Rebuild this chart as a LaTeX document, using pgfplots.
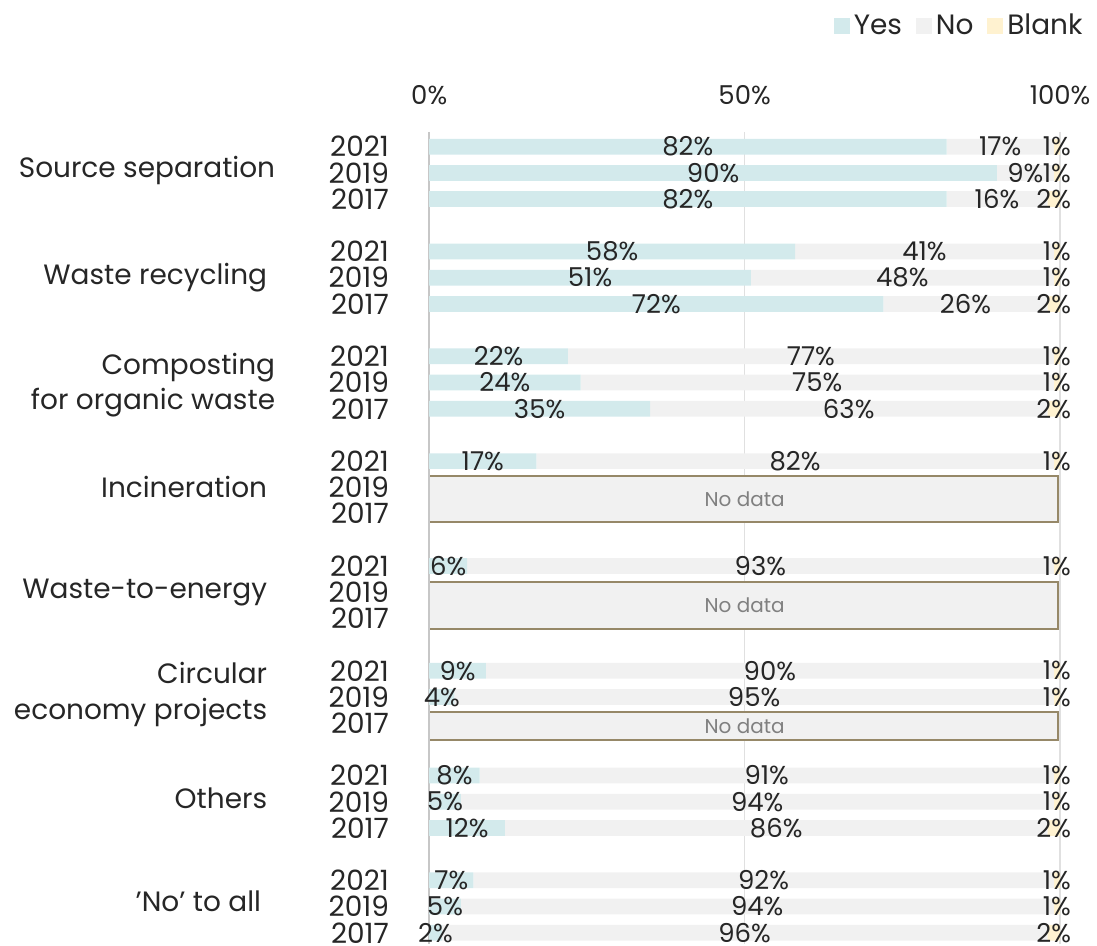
\documentclass[border=0pt]{standalone}
\usepackage{pgfplots}
\usepackage{pgfplotstable}
\usepackage{fontspec}
\pgfplotsset{compat=1.18}
\setmainfont{Poppins}

\definecolor{yescol}{RGB}{211,234,236}
\definecolor{nocol}{RGB}{241,241,241}
\definecolor{blankcol}{RGB}{255,242,208}
\definecolor{boxcol}{RGB}{150,136,104}
\definecolor{txt}{RGB}{38,38,38}

% k = row position (4 slots per group, 4th left empty)
\pgfplotstableread{
k  yes no blank
0  82  17 1
1  90  9  1
2  82  16 2
4  58  41 1
5  51  48 1
6  72  26 2
8  22  77 1
9  24  75 1
10 35  63 2
12 17  82 1
16 6   93 1
20 9   90 1
21 4   95 1
24 8   91 1
25 5   94 1
26 12  86 2
28 7   92 1
29 5   94 1
30 2   96 2
}\data

\pgfplotsset{seg/.style={
  point meta=explicit symbolic,
  nodes near coords={\pgfplotspointmeta\%},
  every node near coord/.style={anchor=center, font=\fontsize{13bp}{13bp}\selectfont,
     text=txt, inner sep=0pt},
}}

\begin{document}
\begin{tikzpicture}
\begin{axis}[
    scale only axis,
    width=316bp, height=407bp,
    xbar stacked, bar width=0.6,
    y dir=reverse,
    xmin=0, xmax=100,
    ymin=-0.57, ymax=30.44,
    axis line style={draw=none},
    major tick length=0pt,
    xtick={0,50,100},
    xticklabels={0\%,50\%,100\%},
    xticklabel pos=top,
    xticklabel style={font=\fontsize{13bp}{13bp}\selectfont, text=txt, yshift=10bp},
    xmajorgrids,
    grid style={line width=0.8bp, black!12},
    ytick={0,1,2,4,5,6,8,9,10,12,13,14,16,17,18,20,21,22,24,25,26,28,29,30},
    yticklabels={2021,2019,2017,2021,2019,2017,2021,2019,2017,2021,2019,2017,
                 2021,2019,2017,2021,2019,2017,2021,2019,2017,2021,2019,2017},
    yticklabel style={font=\fontsize{14bp}{13bp}\selectfont, text=txt, inner sep=0pt, xshift=-20bp},
    legend columns=3,
    legend style={at={(1.052,1.155)}, anchor=north east, draw=none, fill=none,
        font=\fontsize{14bp}{14bp}\selectfont, text=txt,
        /tikz/every even column/.append style={column sep=5bp}},
    legend image code/.code={\fill[#1] (0bp,-4bp) rectangle (8bp,4bp);},
    clip=false,
]
\addplot[fill=yescol, draw=none, seg] table[x=yes, y=k, meta=yes] {\data};
\addplot[fill=nocol, draw=none, seg] table[x=no, y=k, meta=no] {\data};
\addplot[fill=blankcol, draw=none, seg] table[x=blank, y=k, meta=blank] {\data};
\legend{Yes,No,Blank}

\draw[black!22, line width=1.1bp] (axis cs:0,-0.57) -- (axis cs:0,30.44);
\draw[black!12, line width=0.8bp] (axis cs:100,-0.57) -- (axis cs:100,30.44);

\tikzset{nd/.style={boxcol, fill=nocol, line width=1.1bp},
    ndt/.style={text=black!50, font=\fontsize{10bp}{10bp}\selectfont}}
\draw[nd] (axis cs:0,12.57) rectangle (axis cs:99.7,14.32)
    (axis cs:50,13.45) node[ndt] {No data};
\draw[nd] (axis cs:0,16.61) rectangle (axis cs:99.7,18.40)
    (axis cs:50,17.5) node[ndt] {No data};
\draw[nd] (axis cs:0,21.56) rectangle (axis cs:99.7,22.63)
    (axis cs:50,22.1) node[ndt] {No data};

\tikzset{cat/.style={anchor=east, align=right, text=txt, inner sep=0pt,
    font=\fontsize{14bp}{18bp}\selectfont}}
\node[cat] at ([xshift=-77bp]axis cs:0,0.91) {Source separation};
\node[cat] at ([xshift=-81bp]axis cs:0,4.98) {Waste recycling};
\node[cat] at ([xshift=-77bp]axis cs:0,9.1) {Composting\\for organic waste};
\node[cat] at ([xshift=-81bp]axis cs:0,12.97) {Incineration};
\node[cat] at ([xshift=-81bp]axis cs:0,17.03) {Waste-to-energy};
\node[cat] at ([xshift=-81bp]axis cs:0,20.9) {Circular\\economy projects};
\node[cat] at ([xshift=-81bp]axis cs:0,24.87) {Others};
\node[cat] at ([xshift=-84bp]axis cs:0,28.8) {'No' to all};
\end{axis}
\path[use as bounding box] (-215bp,0) rectangle (333.5bp,473bp);
\end{tikzpicture}
\end{document}
